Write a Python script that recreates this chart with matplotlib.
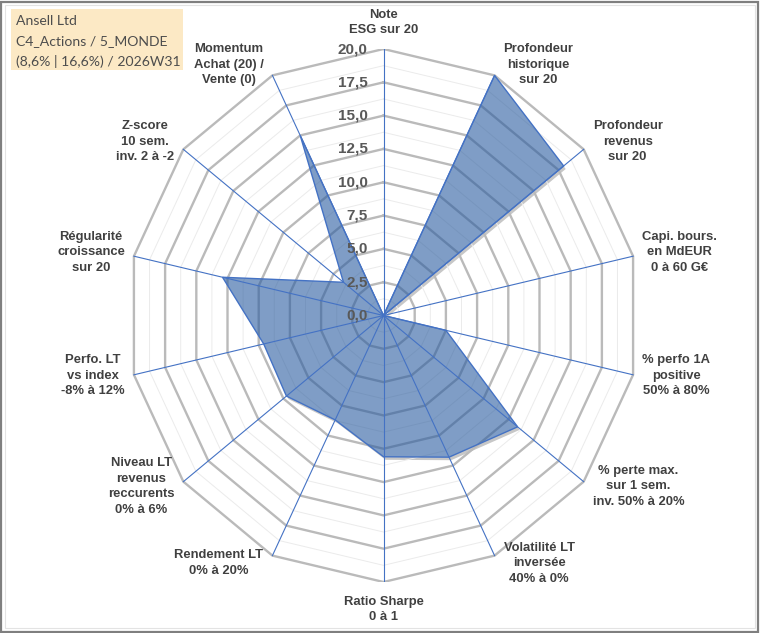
import numpy as np
import matplotlib
matplotlib.use("Agg")
import matplotlib.pyplot as plt
from matplotlib.patches import Polygon, Rectangle
import matplotlib.patheffects as pe

# === données ===
categories = [
    "Note\nESG sur 20",
    "Profondeur\nhistorique\nsur 20",
    "Profondeur\nrevenus\nsur 20",
    "Capi. bours.\nen MdEUR\n0 à 60 G€",
    "% perfo 1A\npositive\n50% à 80%",
    "% perte max.\nsur 1 sem.\ninv. 50% à 20%",
    "Volatilité LT\ninversée\n40% à 0%",
    "Ratio Sharpe\n0 à 1",
    "Rendement LT\n0% à 20%",
    "Niveau LT\nrevenus\nreccurents\n0% à 6%",
    "Perfo. LT\nvs index\n-8% à 12%",
    "Régularité\ncroissance\nsur 20",
    "Z-score\n10 sem.\ninv. 2 à -2",
    "Momentum\nAchat (20) /\nVente (0)",
]
values = [0, 20, 18, 0, 5, 13.4, 11.8, 10.6, 8.7, 9.7, 9.6, 12.9, 4, 15]
tick_values = [0, 2.5, 5, 7.5, 10, 12.5, 15, 17.5, 20]
tick_labels = ["0,0", "2,5", "5,0", "7,5", "10,0", "12,5", "15,0", "17,5", "20,0"]
title_lines = ["Ansell Ltd", "C4_Actions / 5_MONDE", "(8,6% | 16,6%) / 2026W31"]

r_max = 20
n = len(categories)
theta = np.arange(n) * 2 * np.pi / n  # sens horaire depuis le haut


def xy(r, th):
    return np.sin(th) * r, np.cos(th) * r


W, H = 760, 633
fig = plt.figure(figsize=(W / 100, H / 100), dpi=100)

# cadre du graphique
fig.add_artist(Rectangle((1 / W, 1 / H), 1 - 3 / W, 1 - 3 / H, transform=fig.transFigure,
                         fill=False, ec="#7F7F7F", lw=1.6))
fig.add_artist(Rectangle((5 / W, 5 / H), 1 - 10 / W, 1 - 10 / H, transform=fig.transFigure,
                         fill=False, ec="#E3E3E3", lw=0.8))

cx, cy, Rx, Ry = 383.5, 315.5, 256, 266.5
ax = fig.add_axes([(cx - Rx) / W, (H - cy - Ry) / H, 2 * Rx / W, 2 * Ry / H])
ax.set_xlim(-r_max, r_max)
ax.set_ylim(-r_max, r_max)
ax.axis("off")

# ombre du polygone
px, py = xy(np.array(values, dtype=float), theta)
pts = np.column_stack([px, py])
shadow = Polygon(pts, closed=True, fc="white", ec="none", zorder=1.5,
                 path_effects=[pe.SimplePatchShadow(offset=(1.5, -2.2), shadow_rgbFace="black", alpha=0.22),
                               pe.Normal()])
ax.add_patch(shadow)

# grille polygonale
for r in np.arange(1.25, r_max + 0.01, 1.25):
    gx, gy = xy(np.full(n + 1, r), np.append(theta, theta[0]))
    major = abs(r / 2.5 - round(r / 2.5)) < 1e-6
    ax.plot(gx, gy, color="#BABABA" if major else "#EBEBEB",
            lw=1.7 if major else 0.7, zorder=2, solid_joinstyle="miter")

# rayons
for th in theta:
    sx, sy = xy(np.array([0, r_max]), th)
    ax.plot(sx, sy, color="#4472C4", lw=0.8, zorder=4)

# série
ax.add_patch(Polygon(pts, closed=True, fc="#2A5CA0", alpha=0.6, ec="none", zorder=3))
ax.add_patch(Polygon(pts, closed=True, fill=False, ec="#4472C4", lw=1.0, zorder=4))

# étiquettes de l'axe radial
for v, lab in zip(tick_values, tick_labels):
    ax.annotate(lab, (0, v), xytext=(-16, 0), textcoords="offset pixels",
                ha="right", va="center", fontsize=11, fontweight="bold",
                color="#595959", family="Liberation Sans", zorder=5)

# étiquettes des catégories
for i, (lab, th) in enumerate(zip(categories, theta)):
    vx, vy = xy(r_max, th)
    s, c = np.sin(th), np.cos(th)
    if abs(s) < 0.1:
        ha = "center"
        va = "bottom" if c > 0 else "top"
        off = (0, 13 if c > 0 else -14)
    else:
        ha = "left" if s > 0 else "right"
        va = "center"
        off = (9 * np.sign(s), 10 * c + 1.5)
    ax.annotate(lab, (vx, vy), xytext=off, textcoords="offset pixels",
                ha=ha, va=va, multialignment="center", fontsize=9.4, fontweight="bold",
                color="#404040", family="Liberation Sans", linespacing=1.38,
                annotation_clip=False, zorder=5)

# encadré titre
fig.add_artist(Rectangle((11 / W, 1 - 70 / H), 172 / W, 61 / H, transform=fig.transFigure,
                         fc="#FCE9C5", ec="none"))
for k, line in enumerate(title_lines):
    fig.text(16 / W, 1 - (21 + 20 * k) / H, line, ha="left", va="center",
             fontsize=10.1, color="#4D4D4D", family="Lato")

fig.savefig("out.png", dpi=100)
